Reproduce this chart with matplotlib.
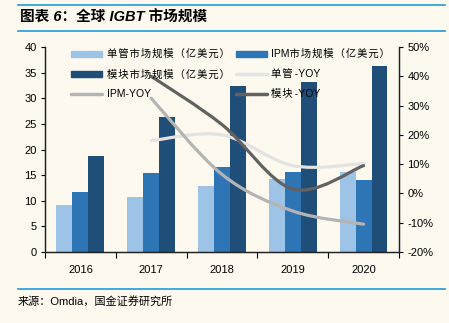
import matplotlib
matplotlib.use('Agg')
import matplotlib.pyplot as plt
import numpy as np
from matplotlib.path import Path
from matplotlib.patches import PathPatch
from matplotlib.lines import Line2D
from matplotlib.patches import Patch

plt.rcParams['font.family'] = ['Liberation Sans', 'Noto Sans CJK SC', 'DejaVu Sans']

# 数据
years = ['2016', '2017', '2018', '2019', '2020']
danguan = [9.2, 10.7, 12.9, 14.2, 15.7]      # 单管市场规模（亿美元）
ipm = [11.7, 15.5, 16.6, 15.7, 14.0]         # IPM市场规模（亿美元）
mokuai = [18.8, 26.3, 32.4, 33.2, 36.2]      # 模块市场规模（亿美元）
danguan_yoy = [18.0, 20.0, 9.5, 10.2]        # 2017-2020, %
ipm_yoy = [32.5, 6.5, -6.0, -10.5]
mokuai_yoy = [40.0, 23.5, 1.5, 9.5]

bg = '#FDF9EF'
c_light, c_mid, c_dark = '#9DC3E6', '#2E75B6', '#1F4E79'
l_light, l_mid, l_dark = '#E3E3E3', '#B4B4B4', '#626262'


def smooth_path(xs, ys, t=1/6.):
    # Catmull-Rom 风格的贝塞尔平滑曲线
    xs = np.asarray(xs, float)
    ys = np.asarray(ys, float)
    n = len(xs)
    verts = [(xs[0], ys[0])]
    codes = [Path.MOVETO]
    for i in range(n - 1):
        i0 = max(i - 1, 0)
        i3 = min(i + 2, n - 1)
        c1 = (xs[i] + (xs[i + 1] - xs[i0]) * t, ys[i] + (ys[i + 1] - ys[i0]) * t)
        c2 = (xs[i + 1] - (xs[i3] - xs[i]) * t, ys[i + 1] - (ys[i3] - ys[i]) * t)
        verts += [c1, c2, (xs[i + 1], ys[i + 1])]
        codes += [Path.CURVE4] * 3
    return Path(verts, codes)


def spaced(s):
    # 中文字符之间加很窄的空格, 模仿原图的字距
    return '\u200a'.join(s)


fig = plt.figure(figsize=(4.49, 3.23), dpi=100, facecolor=bg)
ax = fig.add_axes([0.1002, 0.2198, 0.7884, 0.6347], facecolor=bg)
ax2 = ax.twinx()

x = np.arange(len(years))
w = 0.225
ax.bar(x - w, danguan, w, color=c_light, zorder=2)
ax.bar(x, ipm, w, color=c_mid, zorder=2)
ax.bar(x + w, mokuai, w, color=c_dark, zorder=2)

ax.set_xlim(-0.5, 4.5)
ax.set_ylim(0, 40)
ax.set_yticks(range(0, 41, 5))
ax.set_xticks(np.arange(-0.5, 5, 1))
ax.set_xticklabels([])
ax.set_xticks(x, minor=True)
ax.set_xticklabels(years, minor=True)
ax.tick_params(axis='x', which='minor', length=0, pad=9, labelsize=8)
ax.tick_params(axis='x', which='major', length=4, direction='out')
ax.tick_params(axis='y', length=3, direction='out', labelsize=8, pad=3)

ax2.set_ylim(-20, 50)
ax2.set_yticks(range(-20, 51, 10))
ax2.set_yticklabels(['%d%%' % v for v in range(-20, 51, 10)])
ax2.tick_params(axis='y', length=3, direction='out', labelsize=8, pad=3)

for a in (ax, ax2):
    a.spines['top'].set_visible(False)
    for s in ('left', 'right', 'bottom'):
        a.spines[s].set_color('#222222')
        a.spines[s].set_linewidth(0.9)

xl = x[1:]
for vals, col in [(danguan_yoy, l_light), (ipm_yoy, l_mid), (mokuai_yoy, l_dark)]:
    ax2.add_patch(PathPatch(smooth_path(xl, vals), fill=False, edgecolor=col,
                            lw=2.3, capstyle='round', zorder=3))

handles = [Patch(color=c_light), Patch(color=c_dark),
           Line2D([], [], color=l_mid, lw=2.5, solid_capstyle='round'),
           Patch(color=c_mid),
           Line2D([], [], color=l_light, lw=2.5, solid_capstyle='round'),
           Line2D([], [], color=l_dark, lw=2.5, solid_capstyle='round')]
labels = [spaced('单管市场规模（亿美元）'), spaced('模块市场规模（亿美元）'), 'IPM-YOY',
          'IPM' + spaced('市场规模（亿美元）'), spaced('单管') + '\u2009-YOY',
          spaced('模块') + '\u2009-YOY']
leg = ax2.legend(handles, labels, ncol=2, loc='upper left',
                 bbox_to_anchor=(0.074, 0.99), frameon=False, fontsize=7.5,
                 handlelength=3.0, handleheight=0.5, columnspacing=0.6,
                 labelspacing=0.95, handletextpad=0.4, borderpad=0,
                 borderaxespad=0)

# 标题与装饰线
line_c = '#1E9BE0'
fig.add_artist(Line2D([18 / 449, 445 / 449], [1 - 5 / 323, 1 - 5 / 323], color=line_c, lw=1.2))
fig.add_artist(Line2D([18 / 449, 445 / 449], [1 - 31 / 323, 1 - 31 / 323], color=line_c, lw=1.2))
fig.add_artist(Line2D([18 / 449, 445 / 449], [1 - 289 / 323, 1 - 289 / 323], color=line_c, lw=1.2))
fig.text(20 / 449, 1 - 18 / 323, '图表 6：全球 IGBT 市场规模', fontsize=10.5,
         fontweight='bold', style='italic', va='center', ha='left')
fig.text(18 / 449, 1 - 301 / 323, '来源：Omdia，国金证券研究所', fontsize=8,
         va='center', ha='left')

fig.savefig('out.png', dpi=100, facecolor=bg)
